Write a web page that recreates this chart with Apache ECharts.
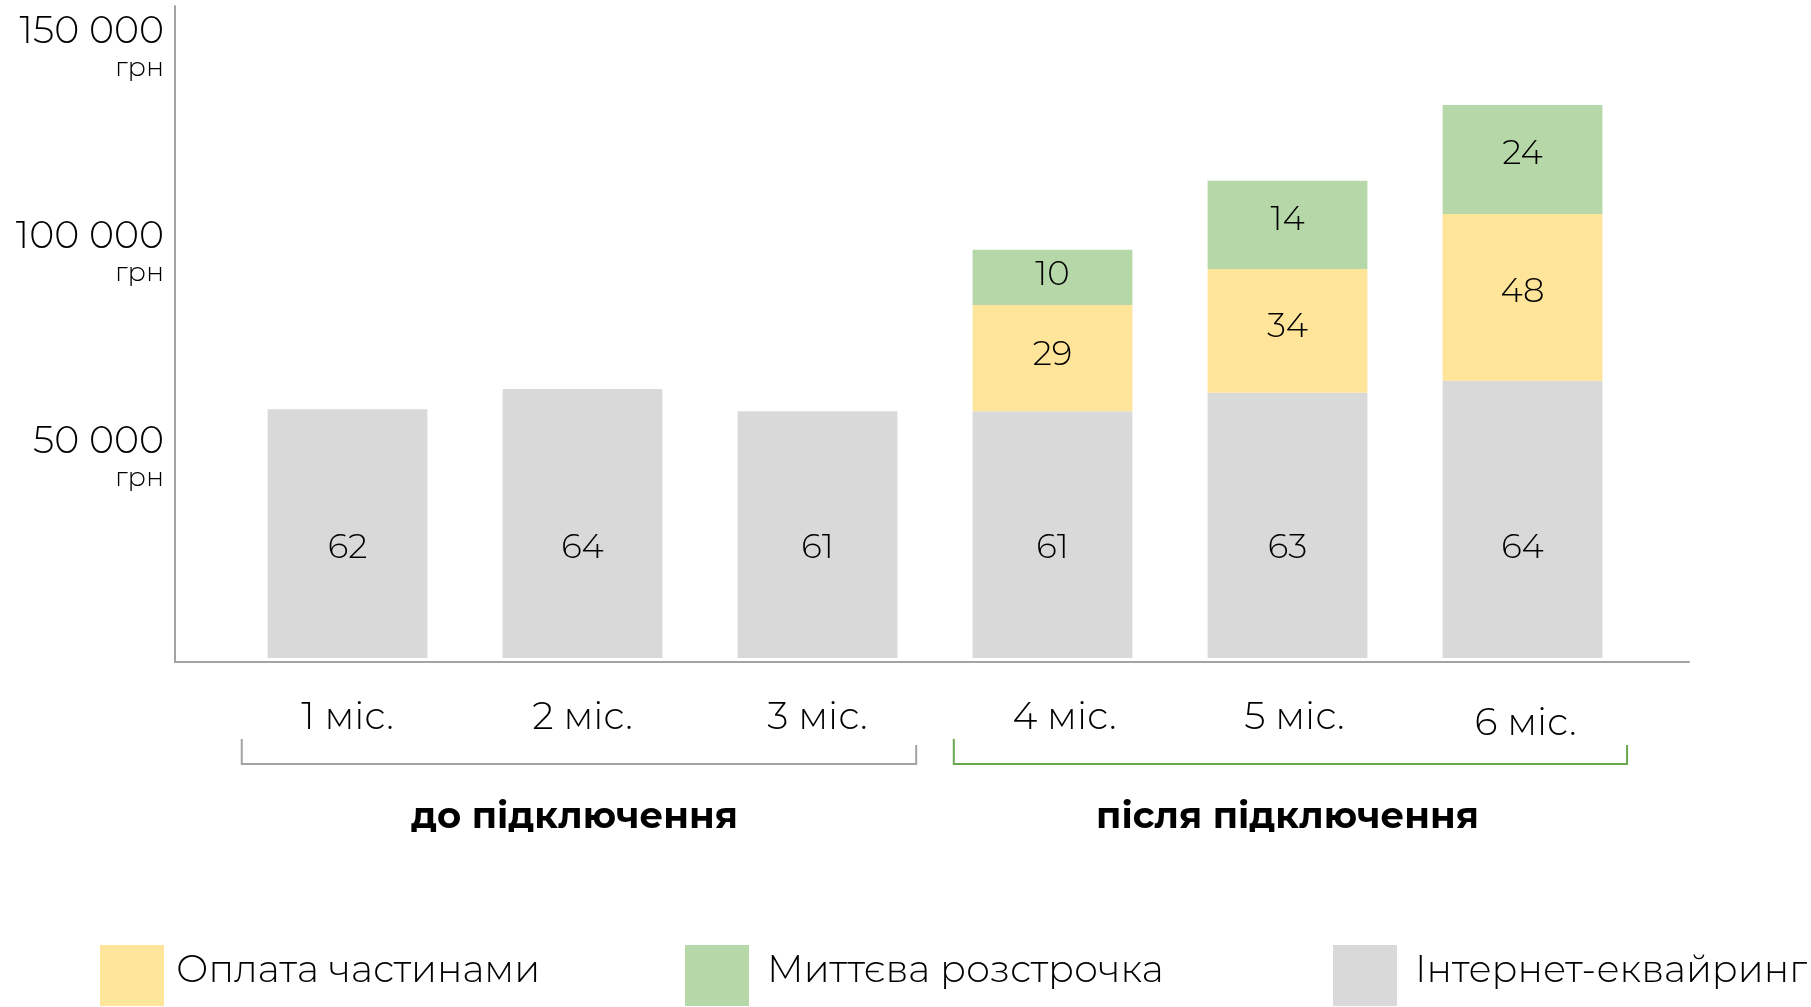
<!DOCTYPE html>
<html>
<head>
<meta charset="utf-8">
<title>Оборот до і після підключення</title>
<style>
  html, body { margin: 0; padding: 0; background: #fff; }
  #chart { width: 1811px; height: 1007px; }
</style>
<script src="https://cdn.jsdelivr.net/npm/echarts@6/dist/echarts.min.js"></script>
</head>
<body>
<div id="chart"></div>
<script>
;(function () {
  'use strict';

  var months = ['1 міс.', '2 міс.', '3 міс.', '4 міс.', '5 міс.', '6 міс.'];
  var periods = ['до підключення', 'після підключення'];

  // bar heights, thousand грн
  var acquiring = [60.7, 65.6, 60.2, 60.2, 64.7, 67.6];
  var installments = [null, null, null, 25.9, 30.2, 40.7];
  var instantCredit = [null, null, null, 13.5, 21.5, 26.6];

  // numbers printed on the bars
  var acquiringLabels = [62, 64, 61, 61, 63, 64];
  var installmentsLabels = [null, null, null, 29, 34, 48];
  var instantCreditLabels = [null, null, null, 10, 14, 24];

  var yTicks = [50, 100, 150];
  var names = ['Оплата частинами', 'Миттєва розстрочка', 'Інтернет-еквайринг'];
  var colors = ['#ffe599', '#b6d7a8', '#d9d9d9'];

  var FONT = 'Montserrat, Inter, sans-serif';
  var AXIS_GREY = '#a3a3a3';

  function money(v) {
    return String(v * 1000).replace(/\B(?=(\d{3})+(?!\d))/g, ' ');
  }

  function labelText(labels) {
    return function (p) {
      return labels[p.dataIndex] == null ? '' : String(labels[p.dataIndex]);
    };
  }

  function barLabel(labels, extra) {
    var l = {
      show: true,
      fontFamily: FONT,
      fontSize: 34,
      fontWeight: 300,
      color: '#000',
      formatter: labelText(labels)
    };
    for (var k in extra) l[k] = extra[k];
    return l;
  }

  function legendFor(i, left, gap) {
    return {
      data: [names[i]],
      left: left,
      top: 945,
      padding: 0,
      icon: 'rect',
      itemWidth: 64,
      itemHeight: 61,
      selectedMode: false,
      formatter: '{t|{name}}',
      textStyle: {
        rich: {
          t: {
            fontFamily: FONT,
            fontSize: 38,
            fontWeight: 300,
            color: '#000',
            padding: [0, 0, 9, gap]
          }
        }
      }
    };
  }

  // small horizontal nudges of the month labels, as in the original layout
  var monthStyle = { fontFamily: FONT, fontSize: 38, fontWeight: 300, color: '#000' };
  function monthRich() {
    var r = { m: monthStyle };
    r.r4 = Object.assign({}, monthStyle, { padding: [0, 0, 0, 24] });
    r.r5 = Object.assign({}, monthStyle, { padding: [0, 0, 0, 14] });
    r.r6 = Object.assign({}, monthStyle, { padding: [6, 0, 0, 6] });
    return r;
  }

  var periodStyle = { fontFamily: FONT, fontSize: 37, fontWeight: 700, color: '#000' };

  var chart = echarts.init(document.getElementById('chart'), null, { renderer: 'canvas' });

  var option = {
    animation: false,
    backgroundColor: '#fff',
    color: colors,
    grid: [
      // axis frame
      { left: 175, top: 6, width: 1514, height: 656 },
      // bars
      { left: 230, top: 2, width: 1410, height: 656 }
    ],
    legend: [
      legendFor(0, 100, 7),
      legendFor(1, 685, 13),
      legendFor(2, 1333, 13)
    ],
    xAxis: [
      {
        gridIndex: 0,
        type: 'value',
        min: 0,
        max: 1,
        axisLine: { show: true, onZero: false, lineStyle: { color: AXIS_GREY, width: 2 } },
        axisTick: { show: false },
        axisLabel: { show: false },
        splitLine: { show: false }
      },
      {
        gridIndex: 1,
        type: 'category',
        data: months,
        axisLine: { show: false },
        axisTick: { show: false },
        axisLabel: {
          margin: 41,
          formatter: function (v, i) {
            var key = i >= 3 ? 'r' + (i + 1) : 'm';
            return '{' + key + '|' + v + '}';
          },
          rich: monthRich()
        }
      },
      {
        gridIndex: 1,
        type: 'category',
        position: 'bottom',
        data: periods,
        axisLine: { show: false },
        axisTick: { show: false },
        axisLabel: {
          margin: 141,
          formatter: function (v, i) {
            return '{' + (i === 0 ? 'a' : 'b') + '|' + v + '}';
          },
          rich: {
            a: Object.assign({}, periodStyle, { padding: [0, 16, 0, 0] }),
            b: periodStyle
          }
        }
      }
    ],
    yAxis: [
      {
        gridIndex: 0,
        type: 'value',
        min: 0,
        max: 160,
        interval: 50,
        axisLine: { show: true, lineStyle: { color: AXIS_GREY, width: 2 } },
        axisTick: { show: false },
        splitLine: { show: false },
        axisLabel: {
          margin: 11,
          formatter: function (v) {
            return yTicks.indexOf(v) < 0 ? '' : '{v|' + money(v) + '}\n{u|грн}';
          },
          rich: {
            v: { fontFamily: FONT, fontSize: 38, fontWeight: 300, color: '#000', lineHeight: 42, align: 'right' },
            u: { fontFamily: FONT, fontSize: 27, fontWeight: 300, color: '#000', lineHeight: 31, align: 'right' }
          }
        }
      },
      {
        gridIndex: 1,
        type: 'value',
        min: 0,
        max: 160,
        show: false
      }
    ],
    series: [
      {
        name: names[2],
        type: 'bar',
        stack: 'total',
        xAxisIndex: 1,
        yAxisIndex: 1,
        barWidth: '68%',
        itemStyle: { color: colors[2] },
        label: barLabel(acquiringLabels, { position: 'insideBottom', distance: 93 }),
        data: acquiring
      },
      {
        name: names[0],
        type: 'bar',
        stack: 'total',
        xAxisIndex: 1,
        yAxisIndex: 1,
        barWidth: '68%',
        itemStyle: { color: colors[0] },
        label: barLabel(installmentsLabels, { position: ['50%', '47%'], align: 'center', verticalAlign: 'middle' }),
        data: installments
      },
      {
        name: names[1],
        type: 'bar',
        stack: 'total',
        xAxisIndex: 1,
        yAxisIndex: 1,
        barWidth: '68%',
        itemStyle: { color: colors[1] },
        label: barLabel(instantCreditLabels, { position: ['50%', '45%'], align: 'center', verticalAlign: 'middle' }),
        data: instantCredit
      }
    ]
  };

  chart.setOption(option);

  // brackets under the month labels, one per period
  function bracket(from, to, padLeft, padRight, color) {
    var step = chart.convertToPixel({ xAxisIndex: 1 }, 1) - chart.convertToPixel({ xAxisIndex: 1 }, 0);
    var x1 = chart.convertToPixel({ xAxisIndex: 1 }, from) - step * padLeft;
    var x2 = chart.convertToPixel({ xAxisIndex: 1 }, to) + step * padRight;
    return {
      type: 'polyline',
      silent: true,
      shape: { points: [[x1, 739], [x1, 764], [x2, 764], [x2, 745]] },
      style: { stroke: color, lineWidth: 2, fill: null }
    };
  }

  chart.setOption({
    graphic: [
      bracket(0, 2, 0.45, 0.42, AXIS_GREY),
      bracket(3, 5, 0.42, 0.445, '#6aa84f')
    ]
  });

  window.addEventListener('resize', function () {
    chart.resize();
  });
})();
</script>
</body>
</html>
